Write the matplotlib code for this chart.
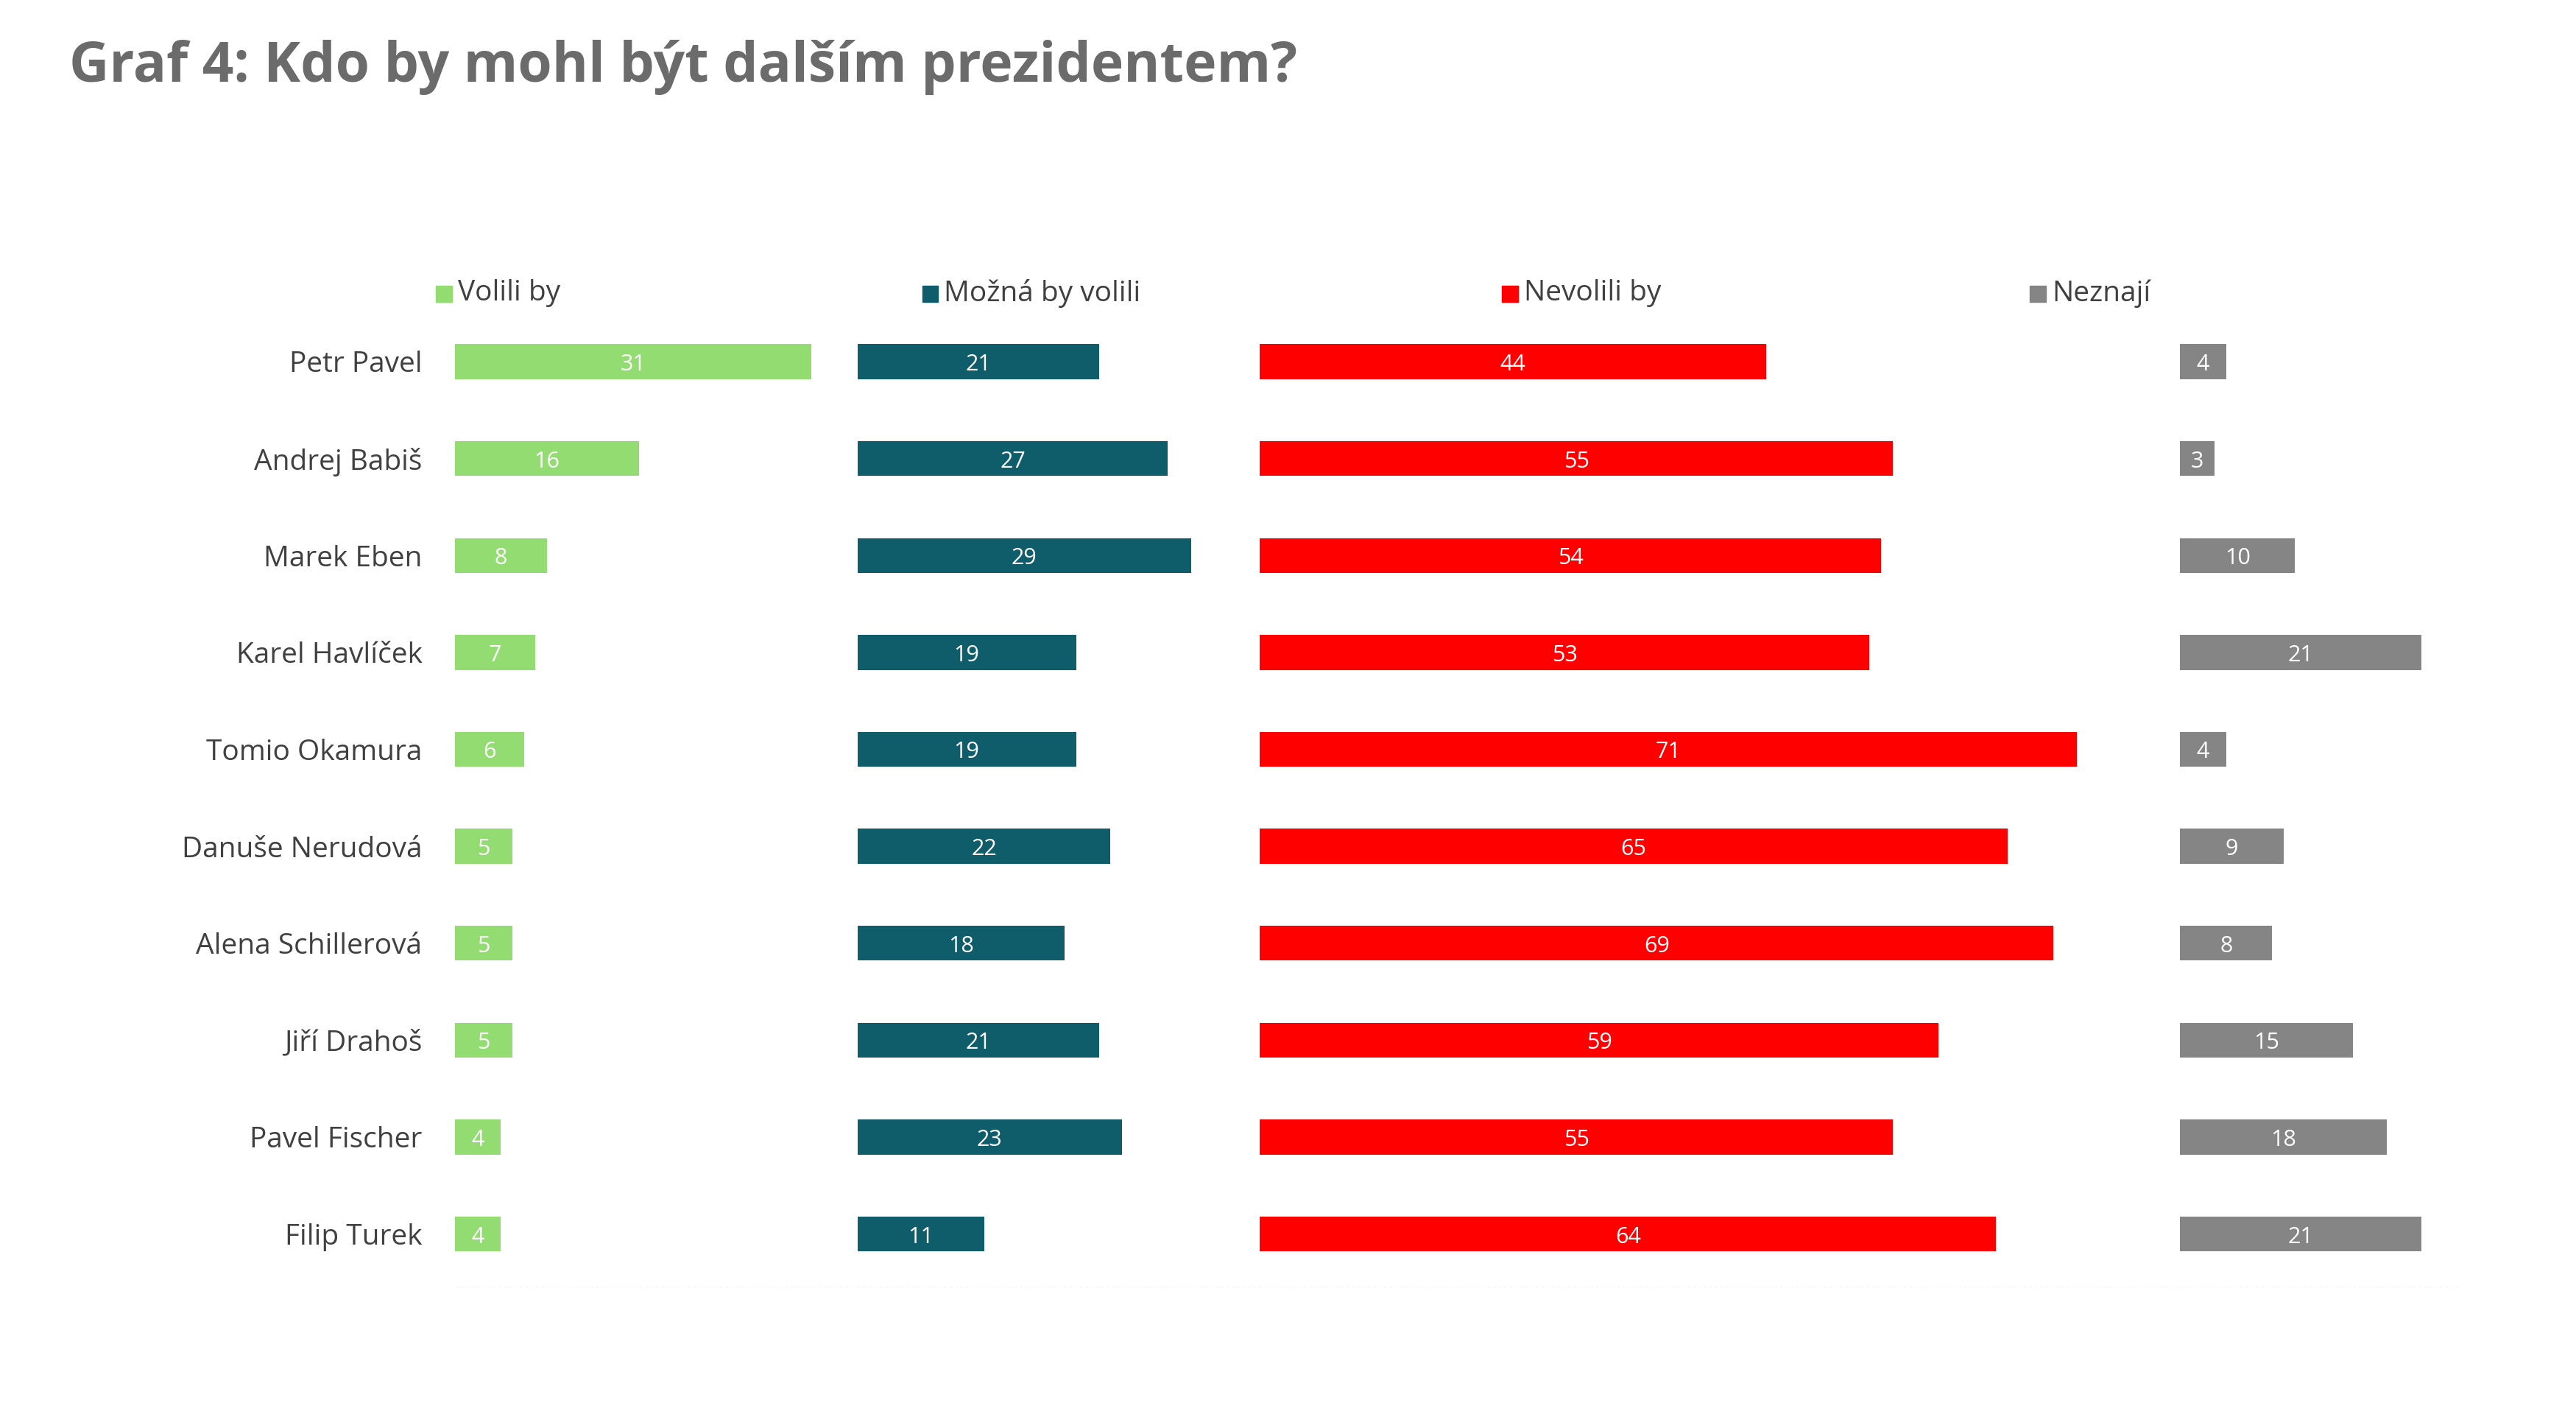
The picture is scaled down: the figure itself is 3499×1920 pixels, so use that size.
import matplotlib.pyplot as plt
from matplotlib.patches import Rectangle

plt.rcParams['font.family'] = ['Open Sans', 'DejaVu Sans']

names = ["Petr Pavel", "Andrej Babiš", "Marek Eben", "Karel Havlíček", "Tomio Okamura",
         "Danuše Nerudová", "Alena Schillerová", "Jiří Drahoš", "Pavel Fischer", "Filip Turek"]
volili = [31, 16, 8, 7, 6, 5, 5, 5, 4, 4]
mozna = [21, 27, 29, 19, 19, 22, 18, 21, 23, 11]
nevolili = [44, 55, 54, 53, 71, 65, 69, 59, 55, 64]
neznaji = [4, 3, 10, 21, 4, 9, 8, 15, 18, 21]

series = [volili, mozna, nevolili, neznaji]
labels = ["Volili by", "Možná by volili", "Nevolili by", "Neznají"]
colors = ["#92DC72", "#0F5D6B", "#FF0000", "#858585"]

# panel widths in data units, same scale for all panels
spans = [35, 35, 80, 24.5]
# legend x positions (figure fraction)
leg_x = [0.1777, 0.3665, 0.5915, 0.7965]

fig = plt.figure(figsize=(34.99, 19.20), dpi=100)
gs = fig.add_gridspec(1, 4, width_ratios=spans, left=0.1766, right=0.9557,
                      bottom=0.0896, top=0.782, wspace=0)

y = list(range(len(names)))
for i in range(4):
    ax = fig.add_subplot(gs[0, i])
    bars = ax.barh(y, series[i], height=0.36, color=colors[i])
    for b, v in zip(bars, series[i]):
        ax.text(b.get_width() / 2, b.get_y() + b.get_height() / 2 + 0.03, str(v),
                ha='center', va='center', color='white', fontsize=22)
    ax.set_xlim(0, spans[i])
    ax.set_ylim(len(names) - 0.45, -0.55)
    ax.set_xticks([])
    for s in ax.spines.values():
        s.set_visible(False)
    if i == 0:
        ax.set_yticks(y)
        ax.set_yticklabels(names, fontsize=28, color='#404040')
        ax.tick_params(axis='y', length=0, pad=32)
    else:
        ax.set_yticks([])
    ax.axhline(len(names) - 0.45, color='#f2f2f2', lw=2, ls=':')

    # legend entry
    fig.patches.append(Rectangle((leg_x[i] - 0.0085, 0.7865), 0.0062, 0.0115,
                                 transform=fig.transFigure, color=colors[i]))
    fig.text(leg_x[i], 0.7925, labels[i], fontsize=28, color='#404040',
             ha='left', va='center')

fig.text(0.027, 0.9525, "Graf 4: Kdo by mohl být dalším prezidentem?",
         fontsize=54, fontweight='bold', color='#6B6B6B', ha='left', va='center')

fig.savefig("out.png", dpi=100, facecolor='white')
